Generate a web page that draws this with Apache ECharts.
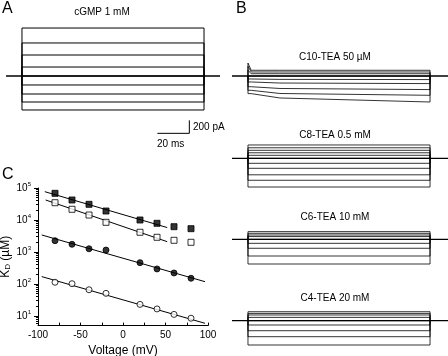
<!DOCTYPE html>
<html><head><meta charset="utf-8">
<script src="https://cdn.jsdelivr.net/npm/echarts@6/dist/echarts.min.js"></script>
<style>html,body{margin:0;padding:0;background:#fff}#c{width:448px;height:356px}</style>
</head><body><div id="c"></div>
<script>
const FONT = 'Liberation Sans, Arial, Helvetica, sans-serif';

// ---- Panel A: current traces (pA), voltage step from 0 to 114 ms ----
const stepStartMs = 0, stepEndMs = 114;
const levelsA = [738, 508, 323, 138, 0, -138, -277, -400, -523];
const scaleBarMs = 20, scaleBarPA = 200;

// ---- Panel B: current traces (pA) ----
const titlesB = ['C10-TEA 50 \u00B5M', 'C8-TEA 0.5 mM', 'C6-TEA 10 mM', 'C4-TEA 20 mM'];
const c10Peak  = [200, 150, 90, 0, -46, -92, -165, -220, -271];
const c10Start = [88, 62, 35, 0, -46, -92, -165, -220, -271];
const c10Mid   = [88, 62, 35, 0, -52, -108, -192, -269, -338];
const c10End   = [88, 62, 35, 0, -55, -117, -209, -297, -400];
const c8Levels = [205, 162, 123, 85, 46, 0, -77, -154, -254, -338, -442];
const c6Levels = [118, 92, 66, 42, 0, -62, -138, -257, -380];
const c4Levels = [138, 112, 88, 51, 0, -66, -154, -246, -374];

// ---- Panel C: K_D (uM) vs voltage (mV) ----
const voltages = [-80, -60, -40, -20, 20, 40, 60, 80];
const kdC4  = [68200, 42200, 30900, 19100, 10000, 7880, 6170, 5350];   // filled squares
const kdC6  = [34700, 21600, 14300, 8470, 4130, 2880, 2320, 2010];     // open squares
const kdC8  = [2250, 1740, 1260, 1150, 463, 295, 221, 151];            // filled circles
const kdC10 = [113, 102, 66, 51, 23, 16.6, 11.2, 8.5];                 // open circles
const fitC4  = [[-92, 76800], [52, 5800]];
const fitC6  = [[-91, 42200], [52, 2100]];
const fitC8  = [[-95.6, 3400], [96.5, 118]];
const fitC10 = [[-95.6, 170], [96.5, 5.9]];
const yMajor = [10, 100, 1000, 10000, 100000];

function stepTrace(v) {
  return [[stepStartMs, 0], [stepStartMs, v], [stepEndMs, v], [stepEndMs, 0]];
}
function relaxTrace(p, s, m, e) {
  return [[stepStartMs, 0], [stepStartMs, p], [2, s], [20, m], [stepEndMs, e], [stepEndMs, 0]];
}

const grids = [
  { left: 6, top: 11, width: 214, height: 130 },
  { left: 232, top: 11, width: 216, height: 130 },
  { left: 232, top: 93.3, width: 216, height: 130 },
  { left: 232, top: 174.3, width: 216, height: 130 },
  { left: 232, top: 255.7, width: 216, height: 130 },
  { left: 38, top: 188, width: 170, height: 137.6 }
].map(g => Object.assign({ outerBoundsMode: 'none', containLabel: false }, g));

const xAxes = [], yAxes = [];
for (let i = 0; i < 5; i++) {
  xAxes.push({ gridIndex: i, type: 'value', min: -10, max: i === 0 ? 124 : 125.25, show: false });
  yAxes.push({ gridIndex: i, type: 'value', min: -1000, max: 1000, show: false });
}
xAxes.push({
  gridIndex: 5, type: 'value', min: -100, max: 100, interval: 50,
  axisLine: { onZero: false, lineStyle: { color: '#000', width: 1 } },
  axisTick: { inside: true, length: 3, lineStyle: { color: '#000' } },
  minorTick: { show: true, splitNumber: 2, length: 3, lineStyle: { color: '#000' } },
  splitLine: { show: false },
  axisLabel: { color: '#000', fontSize: 10, fontFamily: FONT, margin: 5 },
  name: 'Voltage (mV)', nameLocation: 'middle', nameGap: 19,
  nameTextStyle: { color: '#000', fontSize: 12, fontFamily: FONT }
});
// major y axis (labels + major ticks)
yAxes.push({
  gridIndex: 5, type: 'log', logBase: 10, min: 5, max: 100000, position: 'left',
  axisLine: { show: true, onZero: false, lineStyle: { color: '#000', width: 1 } },
  axisTick: { show: true, length: 4, customValues: yMajor, lineStyle: { color: '#000' } },
  splitLine: { show: false },
  axisLabel: {
    customValues: yMajor, margin: 7, color: '#000', fontFamily: FONT,
    formatter: function (v) {
      const e = Math.round(Math.log10(v));
      return '{b|10}{s|' + e + '}';
    },
    rich: {
      b: { fontSize: 10, fontFamily: FONT, color: '#000' },
      s: { fontSize: 6, fontFamily: FONT, color: '#000', padding: [0, 0, 7, 0] }
    }
  },
  name: '{k|K}{d|D}{k| (\u00B5M)}', nameLocation: 'middle', nameGap: 26, nameRotate: 90,
  nameTextStyle: {
    rich: {
      k: { fontSize: 12, fontFamily: FONT, color: '#000' },
      d: { fontSize: 8, fontFamily: FONT, color: '#000', padding: [5, 0, 0, 0] }
    }
  }
});
// minor y ticks
const yMinor = [];
for (let d = 0; d < 5; d++) for (let k = 2; k <= 9; k++) {
  const v = k * Math.pow(10, d);
  if (v > 5 && v < 100000) yMinor.push(v);
}
yAxes.push({
  gridIndex: 5, type: 'log', logBase: 10, min: 5, max: 100000, position: 'left', offset: 0,
  axisLine: { show: false, onZero: false },
  axisTick: { show: true, length: 2, customValues: yMinor, lineStyle: { color: '#000' } },
  axisLabel: { show: false }, splitLine: { show: false }
});

const series = [];
function addLine(xi, yi, data, w) {
  series.push({ type: 'line', xAxisIndex: xi, yAxisIndex: yi, data: data, symbol: 'none',
    lineStyle: { color: '#000', width: w }, silent: true, animation: false, clip: false });
}
// Panel A
levelsA.forEach(v => addLine(0, 0, stepTrace(v), 1));
addLine(0, 0, [[-10, 0], [124, 0]], 1.4);
addLine(0, 0, [[104.8 - scaleBarMs, -882], [104.8, -882], [104.8, -882 + scaleBarPA]], 1);
// Panel B
c10End.forEach((e, i) => addLine(1, 1, relaxTrace(c10Peak[i], c10Start[i], c10Mid[i], e), 0.8));
[c8Levels, c6Levels, c4Levels].forEach((lv, g) => lv.forEach(v => addLine(g + 2, g + 2, stepTrace(v), 0.8)));
for (let g = 1; g <= 4; g++) addLine(g, g, [[-10, 0], [125.25, 0]], 1.3);
// Panel C fits
[fitC4, fitC6, fitC8, fitC10].forEach(f => addLine(5, 5, f, 1));
function addScatter(vals, sym, filled, size) {
  series.push({ type: 'scatter', xAxisIndex: 5, yAxisIndex: 5, z: 5,
    data: voltages.map((v, i) => [v, vals[i]]), symbol: sym, symbolSize: size,
    itemStyle: { color: filled ? '#000' : '#fff', borderColor: '#000', borderWidth: 1 },
    animation: false });
}
addScatter(kdC4, 'rect', true, 6);
addScatter(kdC6, 'rect', false, 6);
addScatter(kdC8, 'circle', true, 6);
addScatter(kdC10, 'circle', false, 6);

function txt(t, x, y, size, align) {
  return { type: 'text', x: x, y: y, style: { text: t, fill: '#000', font: size + 'px ' + FONT,
    textAlign: align || 'left', textVerticalAlign: 'middle' } };
}
const graphics = [
  txt('A', 2, 9, 16), txt('B', 236, 9, 16), txt('C', 2, 175, 16),
  txt('cGMP 1 mM', 102, 12, 10, 'center'),
  txt('200 pA', 193, 127, 10), txt('20 ms', 157, 144, 10),
  txt(titlesB[0], 335, 57, 10, 'center'), txt(titlesB[1], 335, 135, 10, 'center'),
  txt(titlesB[2], 335, 217, 10, 'center'), txt(titlesB[3], 335, 298, 10, 'center')
];

const chart = echarts.init(document.getElementById('c'), null, { renderer: 'canvas' });
chart.setOption({
  animation: false, backgroundColor: '#fff',
  grid: grids, xAxis: xAxes, yAxis: yAxes, series: series, graphic: graphics
});
</script></body></html>
